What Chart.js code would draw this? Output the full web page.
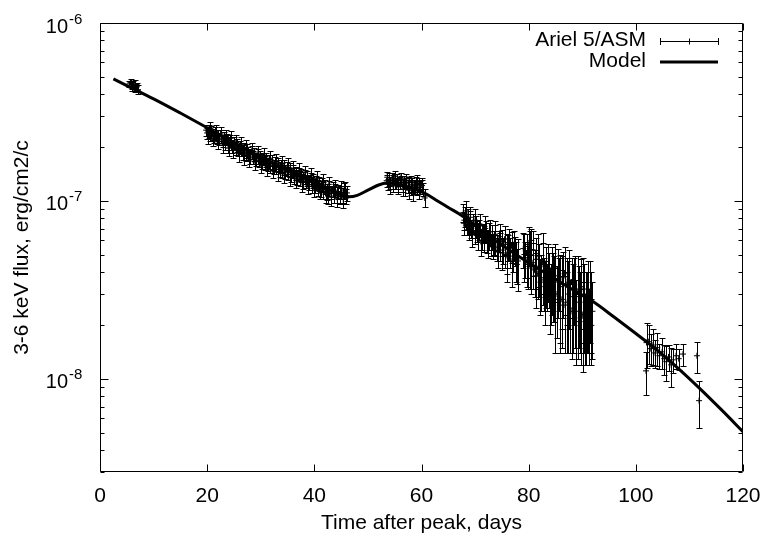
<!DOCTYPE html>
<html>
<head>
<meta charset="utf-8">
<script src="https://cdn.jsdelivr.net/npm/chart.js@4/dist/chart.umd.min.js"></script>
<style>
html,body{margin:0;padding:0;background:#fff;}
#c{display:block;}
</style>
</head>
<body>
<canvas id="c" width="768" height="543"></canvas>
<script>
// ---- Data ----
const xTickValues = [0, 20, 40, 60, 80, 100, 120];
const yMajorExponents = [-6, -7, -8];
const legendLabels = ['Ariel 5/ASM', 'Model'];
const xTitle = 'Time after peak, days';
const yTitle = '3-6 keV flux, erg/cm2/c';

// Model curve (days, flux)
const modelDay = [2.5, 5, 10, 15, 20, 25, 30, 35, 40, 43, 45, 46.5, 48, 50, 52, 53.5, 55, 57, 59, 61, 63, 65, 68, 72, 76, 80, 84, 88, 92, 96, 100, 104, 108, 112, 116, 120];
const modelFlux = [4.85e-7, 4.45e-7, 3.75e-7, 3.12e-7, 2.58e-7, 2.12e-7, 1.76e-7, 1.48e-7, 1.27e-7, 1.15e-7, 1.09e-7, 1.055e-7, 1.075e-7, 1.15e-7, 1.23e-7, 1.26e-7, 1.25e-7, 1.21e-7, 1.16e-7, 1.09e-7, 1.0e-7, 9.2e-8, 8.1e-8, 6.5e-8, 5.4e-8, 4.5e-8, 3.8e-8, 3.2e-8, 2.72e-8, 2.22e-8, 1.8e-8, 1.45e-8, 1.14e-8, 8.8e-9, 6.7e-9, 5.05e-9];

// Ariel 5 / ASM points: day, flux, flux error
const asmDay = [
  5.5, 5.7, 5.9, 6.0, 6.2, 6.4, 6.5, 6.7, 6.9, 7.1,
  19.8, 20.0, 20.3, 20.5, 20.8, 21.0, 21.3, 21.5, 21.8, 22.1, 22.3, 22.6, 22.9, 23.1, 23.4, 23.7, 23.9, 24.2, 24.5, 24.7,
  25.0, 25.3, 25.6, 25.8, 26.1, 26.4, 26.6, 26.9, 27.2, 27.5, 27.7, 28.0, 28.3, 28.5, 28.8, 29.1, 29.4, 29.6, 29.9, 30.2,
  30.5, 30.7, 31.0, 31.3, 31.6, 31.8, 32.1, 32.4, 32.7, 32.9, 33.2, 33.5, 33.8, 34.0, 34.3, 34.6, 34.9, 35.1, 35.4, 35.7,
  36.0, 36.2, 36.5, 36.8, 37.1, 37.3, 37.6, 37.9, 38.2, 38.4, 38.7, 39.0, 39.3, 39.5, 39.8, 40.1, 40.4, 40.6, 40.9, 41.2,
  41.5, 41.7, 42.0, 42.3, 42.6, 42.8, 43.1, 43.4, 43.7, 43.9, 44.2, 44.5, 44.8, 45.0, 45.3, 45.6, 45.9, 46.1,
  20.2, 20.6, 21.1, 21.7, 22.0, 22.5, 23.0, 23.5, 24.0, 24.4, 24.9, 25.4, 25.9, 26.3, 26.8, 27.3, 27.9, 28.4, 28.9, 29.5,
  30.0, 30.6, 31.1, 31.7, 32.2, 32.8, 33.3, 33.9, 34.4, 35.0, 35.5, 36.1, 36.6, 37.2, 37.7, 38.3, 38.8, 39.4, 39.9, 40.5,
  41.0, 41.6, 42.1, 42.7, 43.2, 43.8, 44.3, 44.9, 45.4, 45.8,
  53.5, 53.8, 54.0, 54.2, 54.5, 54.7, 55.0, 55.2, 55.5, 55.7, 56.0, 56.2, 56.5, 56.7, 57.0, 57.2, 57.5, 57.7, 58.0, 58.2,
  58.5, 58.7, 59.0, 59.2, 59.5, 59.7, 60.0, 60.2, 60.6,
  53.6, 54.1, 54.6, 55.1, 55.6, 56.1, 56.6, 57.1, 57.6, 58.1, 58.6, 59.1, 59.6, 60.1,
  67.8, 68.0, 68.2, 68.4, 68.6, 68.8, 69.0, 69.3, 69.6, 69.9, 70.2, 70.5, 70.8, 71.1, 71.4, 71.7, 72.0, 72.3, 72.6, 72.9,
  73.2, 73.5, 73.8, 74.1, 74.4, 74.7, 75.0, 75.3, 75.6, 75.9, 76.2, 76.5, 76.8, 77.1, 77.4, 77.7, 78.0,
  79.0, 79.3, 79.6, 79.9, 80.2, 80.5, 80.8, 81.1, 81.4, 81.7, 82.0, 82.3, 82.6, 82.9, 83.2, 83.5, 83.8, 84.1, 84.4, 84.7,
  85.0, 85.3, 85.6, 85.9, 86.2, 86.5, 86.8, 87.1, 87.4, 87.7, 88.0, 88.3, 88.6, 88.9, 89.2, 89.5, 89.8, 90.1, 90.4, 90.7,
  91.0, 91.3, 91.6, 91.9,
  67.9, 68.3, 68.7, 69.1, 69.5, 70.0, 70.4, 70.9, 71.3, 71.9, 72.4, 72.8, 73.3, 73.7, 74.2, 74.6, 75.1, 75.5, 76.0, 76.4,
  76.9, 77.3, 77.8, 79.2, 79.7, 80.0, 80.4, 80.9, 81.3, 81.8, 82.2, 82.7, 83.1, 83.6, 84.0, 84.5, 84.9, 85.4, 85.8, 86.3,
  86.7, 87.2, 87.6, 88.1, 88.5, 88.8, 89.4, 89.7, 90.2, 90.6, 90.9, 91.4, 91.7,
  101.9, 102.0, 102.4, 102.8, 103.2, 103.6, 104.0, 104.4, 104.9, 105.3, 105.7, 106.1, 106.6, 107.0, 107.5, 108.0, 108.8,
  111.4, 111.8
];
const asmFlux = [
  4.55e-7, 4.62e-7, 4.48e-7, 4.40e-7, 4.52e-7, 4.35e-7, 4.45e-7, 4.30e-7, 4.38e-7, 4.22e-7,
  2.50e-7, 2.41e-7, 2.46e-7, 2.33e-7, 2.44e-7, 2.37e-7, 2.29e-7, 2.40e-7, 2.25e-7, 2.34e-7, 2.22e-7, 2.30e-7, 2.17e-7, 2.27e-7, 2.13e-7, 2.22e-7, 2.08e-7, 2.18e-7, 2.11e-7, 2.03e-7,
  2.12e-7, 1.98e-7, 2.06e-7, 1.93e-7, 2.01e-7, 1.96e-7, 1.87e-7, 1.97e-7, 1.84e-7, 1.92e-7, 1.86e-7, 1.79e-7, 1.88e-7, 1.76e-7, 1.83e-7, 1.72e-7, 1.79e-7, 1.69e-7, 1.76e-7, 1.67e-7,
  1.73e-7, 1.64e-7, 1.71e-7, 1.61e-7, 1.67e-7, 1.58e-7, 1.65e-7, 1.56e-7, 1.62e-7, 1.54e-7, 1.60e-7, 1.51e-7, 1.57e-7, 1.49e-7, 1.55e-7, 1.46e-7, 1.52e-7, 1.44e-7, 1.50e-7, 1.41e-7,
  1.47e-7, 1.39e-7, 1.44e-7, 1.36e-7, 1.42e-7, 1.34e-7, 1.39e-7, 1.31e-7, 1.37e-7, 1.29e-7, 1.34e-7, 1.27e-7, 1.32e-7, 1.24e-7, 1.30e-7, 1.22e-7, 1.27e-7, 1.19e-7, 1.25e-7, 1.17e-7,
  1.23e-7, 1.15e-7, 1.21e-7, 1.13e-7, 1.08e-7, 1.18e-7, 1.12e-7, 1.16e-7, 1.10e-7, 1.15e-7, 1.09e-7, 1.13e-7, 1.07e-7, 1.12e-7, 1.08e-7, 1.14e-7, 1.06e-7, 1.11e-7,
  2.30e-7, 2.55e-7, 2.22e-7, 2.45e-7, 2.15e-7, 2.38e-7, 2.05e-7, 2.30e-7, 1.98e-7, 2.25e-7, 1.92e-7, 2.15e-7, 1.85e-7, 2.08e-7, 1.78e-7, 2.00e-7, 1.72e-7, 1.92e-7, 1.66e-7, 1.86e-7,
  1.60e-7, 1.80e-7, 1.55e-7, 1.74e-7, 1.50e-7, 1.68e-7, 1.45e-7, 1.62e-7, 1.40e-7, 1.58e-7, 1.36e-7, 1.53e-7, 1.31e-7, 1.48e-7, 1.27e-7, 1.44e-7, 1.23e-7, 1.39e-7, 1.18e-7, 1.34e-7,
  1.14e-7, 1.29e-7, 1.10e-7, 1.24e-7, 1.05e-7, 1.20e-7, 1.03e-7, 1.18e-7, 1.02e-7, 1.16e-7,
  1.30e-7, 1.24e-7, 1.33e-7, 1.27e-7, 1.35e-7, 1.22e-7, 1.29e-7, 1.25e-7, 1.32e-7, 1.20e-7, 1.27e-7, 1.30e-7, 1.23e-7, 1.28e-7, 1.19e-7, 1.26e-7, 1.21e-7, 1.28e-7, 1.18e-7, 1.24e-7,
  1.10e-7, 1.22e-7, 1.26e-7, 1.17e-7, 1.23e-7, 1.19e-7, 1.25e-7, 1.16e-7, 1.04e-7,
  1.36e-7, 1.21e-7, 1.28e-7, 1.37e-7, 1.24e-7, 1.34e-7, 1.17e-7, 1.31e-7, 1.15e-7, 1.29e-7, 1.20e-7, 1.30e-7, 1.14e-7, 1.22e-7,
  8.6e-8, 7.8e-8, 8.2e-8, 7.2e-8, 8.0e-8, 6.9e-8, 7.6e-8, 7.0e-8, 7.5e-8, 6.6e-8, 7.2e-8, 6.4e-8, 6.9e-8, 5.9e-8, 6.6e-8, 6.2e-8, 6.8e-8, 6.0e-8, 6.4e-8, 5.7e-8,
  6.3e-8, 5.9e-8, 6.1e-8, 5.5e-8, 6.0e-8, 5.6e-8, 5.9e-8, 5.3e-8, 5.7e-8, 5.0e-8, 5.5e-8, 5.2e-8, 5.6e-8, 4.9e-8, 5.3e-8, 4.7e-8, 4.6e-8,
  5.4e-8, 4.8e-8, 5.1e-8, 4.4e-8, 5.0e-8, 6.0e-8, 4.5e-8, 4.1e-8, 4.7e-8, 3.9e-8, 4.3e-8, 3.7e-8, 4.6e-8, 3.6e-8, 4.0e-8, 3.4e-8, 3.8e-8, 3.2e-8, 3.9e-8, 3.5e-8,
  4.2e-8, 3.0e-8, 3.6e-8, 3.3e-8, 2.8e-8, 3.7e-8, 2.6e-8, 3.4e-8, 3.0e-8, 2.5e-8, 3.5e-8, 2.9e-8, 3.2e-8, 2.4e-8, 3.1e-8, 2.7e-8, 3.3e-8, 2.3e-8, 2.9e-8, 2.6e-8,
  3.0e-8, 2.2e-8, 2.7e-8, 2.4e-8,
  7.5e-8, 8.8e-8, 7.4e-8, 8.1e-8, 6.5e-8, 7.8e-8, 6.8e-8, 7.4e-8, 6.3e-8, 7.0e-8, 5.8e-8, 6.7e-8, 5.6e-8, 6.5e-8, 5.2e-8, 6.3e-8, 5.1e-8, 6.1e-8, 4.9e-8, 5.8e-8,
  4.6e-8, 5.7e-8, 4.4e-8, 5.0e-8, 4.6e-8, 5.7e-8, 4.2e-8, 5.3e-8, 3.8e-8, 4.9e-8, 3.5e-8, 4.4e-8, 3.3e-8, 4.2e-8, 3.0e-8, 3.6e-8, 2.8e-8, 3.8e-8, 2.6e-8, 3.4e-8,
  3.9e-8, 2.7e-8, 3.6e-8, 2.4e-8, 3.4e-8, 2.1e-8, 2.9e-8, 2.2e-8, 3.2e-8, 2.1e-8, 2.7e-8, 3.1e-8, 2.0e-8,
  1.11e-8, 1.60e-8, 1.62e-8, 1.48e-8, 1.55e-8, 1.40e-8, 1.50e-8, 1.35e-8, 1.42e-8, 1.30e-8, 1.25e-8, 1.33e-8, 1.20e-8, 1.28e-8, 1.35e-8, 1.30e-8, 1.38e-8,
  1.35e-8, 7.55e-9
];
const asmErr = [
  0.20e-7, 0.22e-7, 0.20e-7, 0.25e-7, 0.21e-7, 0.20e-7, 0.35e-7, 0.22e-7, 0.20e-7, 0.24e-7,
  0.18e-7, 0.17e-7, 0.20e-7, 0.17e-7, 0.19e-7, 0.16e-7, 0.18e-7, 0.20e-7, 0.17e-7, 0.18e-7, 0.16e-7, 0.19e-7, 0.17e-7, 0.18e-7, 0.19e-7, 0.17e-7, 0.21e-7, 0.16e-7, 0.17e-7, 0.18e-7,
  0.16e-7, 0.17e-7, 0.18e-7, 0.15e-7, 0.17e-7, 0.16e-7, 0.18e-7, 0.15e-7, 0.16e-7, 0.17e-7, 0.15e-7, 0.17e-7, 0.16e-7, 0.14e-7, 0.16e-7, 0.15e-7, 0.17e-7, 0.14e-7, 0.15e-7, 0.16e-7,
  0.14e-7, 0.15e-7, 0.16e-7, 0.14e-7, 0.15e-7, 0.14e-7, 0.16e-7, 0.14e-7, 0.15e-7, 0.13e-7, 0.14e-7, 0.15e-7, 0.13e-7, 0.14e-7, 0.15e-7, 0.13e-7, 0.14e-7, 0.12e-7, 0.14e-7, 0.13e-7,
  0.12e-7, 0.14e-7, 0.12e-7, 0.13e-7, 0.12e-7, 0.13e-7, 0.12e-7, 0.14e-7, 0.12e-7, 0.11e-7, 0.13e-7, 0.12e-7, 0.11e-7, 0.13e-7, 0.12e-7, 0.11e-7, 0.12e-7, 0.13e-7, 0.11e-7, 0.12e-7,
  0.11e-7, 0.12e-7, 0.11e-7, 0.12e-7, 0.12e-7, 0.11e-7, 0.10e-7, 0.11e-7, 0.12e-7, 0.10e-7, 0.11e-7, 0.10e-7, 0.11e-7, 0.10e-7, 0.11e-7, 0.12e-7, 0.10e-7, 0.11e-7,
  0.20e-7, 0.22e-7, 0.19e-7, 0.21e-7, 0.20e-7, 0.22e-7, 0.20e-7, 0.21e-7, 0.19e-7, 0.22e-7, 0.18e-7, 0.20e-7, 0.19e-7, 0.21e-7, 0.18e-7, 0.19e-7, 0.17e-7, 0.19e-7, 0.17e-7, 0.18e-7,
  0.16e-7, 0.18e-7, 0.16e-7, 0.17e-7, 0.15e-7, 0.16e-7, 0.15e-7, 0.17e-7, 0.14e-7, 0.16e-7, 0.14e-7, 0.15e-7, 0.13e-7, 0.15e-7, 0.14e-7, 0.14e-7, 0.13e-7, 0.14e-7, 0.13e-7, 0.14e-7,
  0.12e-7, 0.13e-7, 0.12e-7, 0.13e-7, 0.11e-7, 0.12e-7, 0.11e-7, 0.12e-7, 0.11e-7, 0.12e-7,
  0.10e-7, 0.09e-7, 0.11e-7, 0.10e-7, 0.09e-7, 0.10e-7, 0.12e-7, 0.09e-7, 0.10e-7, 0.11e-7, 0.10e-7, 0.09e-7, 0.10e-7, 0.11e-7, 0.12e-7, 0.09e-7, 0.10e-7, 0.09e-7, 0.10e-7, 0.11e-7,
  0.10e-7, 0.09e-7, 0.10e-7, 0.09e-7, 0.11e-7, 0.10e-7, 0.09e-7, 0.10e-7, 0.12e-7,
  0.10e-7, 0.11e-7, 0.12e-7, 0.10e-7, 0.11e-7, 0.10e-7, 0.11e-7, 0.10e-7, 0.12e-7, 0.10e-7, 0.11e-7, 0.10e-7, 0.11e-7, 0.10e-7,
  1.0e-8, 0.9e-8, 1.1e-8, 0.8e-8, 1.0e-8, 0.9e-8, 1.2e-8, 0.8e-8, 1.0e-8, 0.9e-8, 1.0e-8, 1.1e-8, 0.9e-8, 1.0e-8, 0.8e-8, 1.0e-8, 0.9e-8, 0.9e-8, 1.1e-8, 0.8e-8,
  1.0e-8, 0.9e-8, 1.2e-8, 0.9e-8, 0.8e-8, 1.0e-8, 1.0e-8, 0.9e-8, 1.5e-8, 1.5e-8, 0.9e-8, 1.0e-8, 1.1e-8, 0.9e-8, 1.0e-8, 1.2e-8, 1.5e-8,
  1.2e-8, 1.1e-8, 1.4e-8, 1.2e-8, 1.8e-8, 1.0e-8, 1.3e-8, 1.2e-8, 1.5e-8, 1.1e-8, 1.4e-8, 1.3e-8, 2.0e-8, 1.2e-8, 1.5e-8, 1.0e-8, 1.3e-8, 1.2e-8, 1.6e-8, 1.4e-8,
  1.5e-8, 1.3e-8, 1.2e-8, 1.7e-8, 1.3e-8, 1.5e-8, 1.2e-8, 1.4e-8, 1.6e-8, 1.1e-8, 1.3e-8, 1.5e-8, 1.7e-8, 1.2e-8, 1.8e-8, 1.3e-8, 1.4e-8, 1.2e-8, 1.5e-8, 1.4e-8,
  1.6e-8, 1.0e-8, 1.3e-8, 1.1e-8,
  1.1e-8, 1.2e-8, 1.0e-8, 1.1e-8, 1.0e-8, 1.2e-8, 0.9e-8, 1.1e-8, 1.0e-8, 1.2e-8, 1.0e-8, 1.1e-8, 0.9e-8, 1.2e-8, 1.0e-8, 1.1e-8, 1.0e-8, 1.1e-8, 1.0e-8, 1.2e-8,
  1.3e-8, 1.1e-8, 1.0e-8, 1.5e-8, 1.3e-8, 1.4e-8, 1.2e-8, 1.5e-8, 1.3e-8, 1.6e-8, 1.2e-8, 1.4e-8, 1.3e-8, 1.5e-8, 1.2e-8, 1.5e-8, 1.4e-8, 1.6e-8, 1.2e-8, 1.5e-8,
  1.6e-8, 1.3e-8, 1.7e-8, 1.1e-8, 1.4e-8, 0.9e-8, 1.4e-8, 1.0e-8, 1.6e-8, 0.9e-8, 1.3e-8, 1.5e-8, 0.8e-8,
  0.30e-8, 0.45e-8, 0.40e-8, 0.30e-8, 0.35e-8, 0.25e-8, 0.32e-8, 0.22e-8, 0.28e-8, 0.25e-8, 0.28e-8, 0.22e-8, 0.30e-8, 0.20e-8, 0.22e-8, 0.18e-8, 0.20e-8,
  0.27e-8, 0.225e-8
];

const FONT = '"Liberation Sans", Arial, Helvetica, sans-serif';
const FS = 21;

const modelPoints = modelDay.map((d, i) => ({x: d, y: modelFlux[i]}));
const asmPoints = asmDay.map((d, i) => ({x: d, y: asmFlux[i]}));

const gnuplotPlugin = {
  id: 'gnuplotPlugin',
  beforeDatasetsDraw(chart) {
    const {ctx, scales: {x, y}} = chart;
    ctx.save();
    ctx.strokeStyle = '#000';
    ctx.lineWidth = 1;
    ctx.beginPath();
    for (let i = 0; i < asmDay.length; i++) {
      const px = Math.round(x.getPixelForValue(asmDay[i])) + 0.5;
      const yt = Math.round(y.getPixelForValue(asmFlux[i] + asmErr[i])) + 0.5;
      const yb = Math.round(y.getPixelForValue(asmFlux[i] - asmErr[i])) + 0.5;
      ctx.moveTo(px, yt); ctx.lineTo(px, yb);
      ctx.moveTo(px - 3, yt); ctx.lineTo(px + 3, yt);
      ctx.moveTo(px - 3, yb); ctx.lineTo(px + 3, yb);
    }
    ctx.stroke();
    ctx.restore();
  },
  afterDraw(chart) {
    const {ctx, chartArea: a, scales: {x, y}} = chart;
    ctx.save();
    ctx.strokeStyle = '#000';
    ctx.fillStyle = '#000';
    ctx.lineWidth = 1;
    const L = Math.round(a.left) + 0.5, R = Math.round(a.right) - 0.5;
    const T = Math.round(a.top) + 0.5, B = Math.round(a.bottom) - 0.5;
    ctx.beginPath();
    ctx.rect(L, T, R - L, B - T);
    xTickValues.forEach(v => {
      const px = Math.round(x.getPixelForValue(v)) + 0.5;
      ctx.moveTo(px, B); ctx.lineTo(px, B - 7);
      ctx.moveTo(px, T); ctx.lineTo(px, T + 7);
    });
    for (let e = -9; e <= -6; e++) {
      for (let k = 1; k <= 9; k++) {
        const v = k * Math.pow(10, e);
        if (v < y.min * 0.999 || v > y.max * 1.001) continue;
        const py = Math.round(y.getPixelForValue(v)) + 0.5;
        const len = k === 1 ? 8 : 4;
        ctx.moveTo(L, py); ctx.lineTo(L + len, py);
        ctx.moveTo(R, py); ctx.lineTo(R - len, py);
      }
    }
    ctx.stroke();

    yMajorExponents.forEach(e => {
      const py = y.getPixelForValue(Math.pow(10, e));
      ctx.textBaseline = 'alphabetic';
      ctx.font = '20px ' + FONT;
      ctx.textAlign = 'right';
      ctx.fillText('10', 68, py + 9.5);
      ctx.font = '15px ' + FONT;
      ctx.textAlign = 'left';
      ctx.fillText(String(e), 69, py + 0.5);
    });

    ctx.font = FS + 'px ' + FONT;
    ctx.textAlign = 'right';
    ctx.textBaseline = 'middle';
    ctx.fillText(legendLabels[0], 646, 40);
    ctx.fillText(legendLabels[1], 646, 61);
    ctx.beginPath();
    ctx.moveTo(660, 41.5); ctx.lineTo(718, 41.5);
    ctx.moveTo(660.5, 38); ctx.lineTo(660.5, 45);
    ctx.moveTo(718.5, 38); ctx.lineTo(718.5, 45);
    ctx.moveTo(689.5, 38.5); ctx.lineTo(689.5, 44.5);
    ctx.stroke();
    ctx.beginPath();
    ctx.lineWidth = 3;
    ctx.moveTo(660, 62); ctx.lineTo(718, 62);
    ctx.stroke();
    ctx.restore();
  }
};

new Chart(document.getElementById('c'), {
  type: 'scatter',
  data: {
    datasets: [
      {
        type: 'line',
        label: legendLabels[1],
        data: modelPoints,
        borderColor: '#000',
        borderWidth: 3,
        pointRadius: 0,
        fill: false,
        cubicInterpolationMode: 'monotone'
      },
      {
        type: 'scatter',
        label: legendLabels[0],
        data: asmPoints,
        pointStyle: 'cross',
        pointRadius: 3,
        borderColor: '#000',
        backgroundColor: '#000',
        borderWidth: 1
      }
    ]
  },
  options: {
    responsive: false,
    animation: false,
    devicePixelRatio: 1,
    layout: {padding: {left: 0, right: 25, top: 23, bottom: 0}},
    plugins: {legend: {display: false}, tooltip: {enabled: false}},
    scales: {
      x: {
        type: 'linear',
        position: 'bottom',
        min: 0, max: 120,
        afterFit(s) { s.height = 71; },
        afterBuildTicks(s) { s.ticks = xTickValues.map(v => ({value: v})); },
        grid: {display: false, drawTicks: true, tickLength: 12},
        border: {display: false},
        ticks: {padding: 0, color: '#000', font: {family: FONT, size: FS}, maxRotation: 0, autoSkip: false},
        title: {display: true, text: xTitle, color: '#000', font: {family: FONT, size: FS}, padding: {top: 0, bottom: 7}}
      },
      y: {
        type: 'logarithmic',
        position: 'left',
        min: 3e-9, max: 1e-6,
        afterFit(s) { s.width = 100; },
        grid: {display: false, drawTicks: false},
        border: {display: false},
        ticks: {display: false},
        title: {display: true, text: yTitle, color: '#000', font: {family: FONT, size: FS}, padding: {top: 10, bottom: 0}}
      }
    }
  },
  plugins: [gnuplotPlugin]
});
</script>
</body>
</html>
